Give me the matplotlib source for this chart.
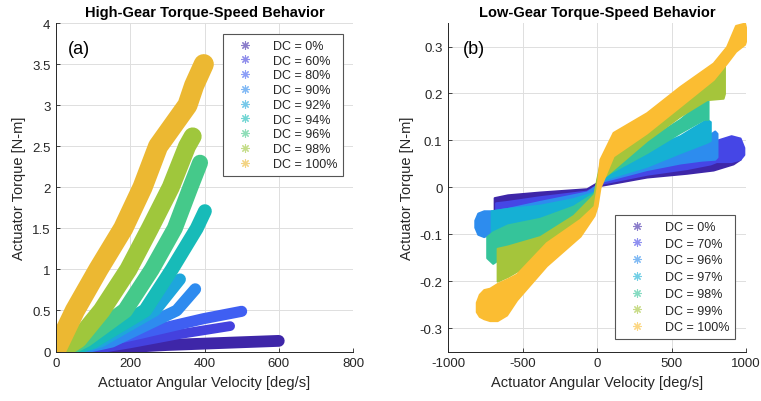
"""
Torque-speed behaviour of the actuator in high and low gear,
one band per PWM duty cycle.
"""

import matplotlib.pyplot as plt
from matplotlib.lines import Line2D
from matplotlib.ticker import FuncFormatter


plt.rcParams["font.family"] = ["Liberation Sans", "DejaVu Sans"]

# ------------------------------------------------------------
# Data
# ------------------------------------------------------------

# High gear: centre line of each measured band (deg/s, N-m)
HIGH_DC = [0, 60, 80, 90, 92, 94, 96, 98, 100]
HIGH_VEL = [
    [90, 300, 600],
    [80, 200, 330, 469],
    [60, 136, 226, 397, 500],
    [30, 150, 325, 375],
    [25, 120, 267, 334],
    [20, 100, 240, 312, 379, 401],
    [15, 80, 186, 258, 320, 362, 388],
    [8, 60, 123, 195, 253, 309, 353, 368],
    [0, 51, 114, 181, 233, 275, 354, 372, 398],
]
HIGH_TORQUE = [
    [0.03, 0.08, 0.13],
    [0.01, 0.10, 0.21, 0.31],
    [0.02, 0.13, 0.22, 0.40, 0.49],
    [0.0, 0.12, 0.50, 0.76],
    [0.0, 0.12, 0.50, 0.88],
    [0.0, 0.12, 0.50, 1.00, 1.50, 1.71],
    [0.0, 0.15, 0.50, 1.00, 1.50, 2.00, 2.30],
    [0.0, 0.15, 0.50, 1.00, 1.50, 2.00, 2.50, 2.62],
    [0.02, 0.50, 1.00, 1.50, 2.00, 2.50, 3.00, 3.24, 3.50],
]

# Low gear: lower / upper envelope of each band (deg/s, N-m)
LOW_DC = [0, 70, 96, 97, 98, 99, 100]
LOW_VEL = [
    [-690, -600, -383, -69, 0, 20, 333, 600, 780, 913, 960],
    [-680, -600, -383, -69, 0, 20, 333, 600, 760, 800, 900, 960, 985],
    [-820, -800, -760, -700, -600, -383, -69, 0, 20, 333, 557, 700, 790, 805],
    [-710, -600, -383, -159, -20, 0, 20, 333, 557, 736, 760],
    [-740, -700, -600, -383, -159, -20, 0, 20, 333, 557, 715, 745],
    [-670, -600, -383, -159, -20, 0, 20, 333, 557, 736, 846, 855],
    [-810, -790, -760, -720, -670, -607, -540, -340, -114, -20, 0, 20, 108,
     333, 557, 780, 870, 930, 990, 1005],
]
LOW_HI = [
    [-0.022, -0.016, -0.010, -0.003, 0.01, 0.03, 0.05, 0.06, 0.07, 0.08,
     0.08],
    [-0.033, -0.03, -0.02, -0.008, 0.005, 0.03, 0.055, 0.07, 0.085, 0.10,
     0.11, 0.105, 0.085],
    [-0.07, -0.055, -0.05, -0.05, -0.045, -0.03, -0.01, 0.005, 0.035, 0.065,
     0.085, 0.10, 0.12, 0.115],
    [-0.05, -0.045, -0.038, -0.024, -0.01, 0.01, 0.04, 0.08, 0.11, 0.145,
     0.14],
    [-0.105, -0.095, -0.08, -0.066, -0.04, -0.012, 0.015, 0.045, 0.10, 0.145,
     0.187, 0.185],
    [-0.13, -0.125, -0.105, -0.06, -0.015, 0.02, 0.05, 0.12, 0.175, 0.24,
     0.285, 0.27],
    [-0.245, -0.228, -0.218, -0.215, -0.205, -0.196, -0.185, -0.118, -0.068,
     -0.04, 0.0, 0.06, 0.117, 0.159, 0.215, 0.265, 0.30, 0.345, 0.35, 0.33],
]
LOW_LO = [
    [-0.055, -0.05, -0.04, -0.025, -0.015, 0.004, 0.022, 0.03, 0.037, 0.05,
     0.06],
    [-0.06, -0.052, -0.045, -0.03, -0.02, 0.008, 0.028, 0.04, 0.05, 0.055,
     0.055, 0.06, 0.07],
    [-0.085, -0.1, -0.105, -0.095, -0.07, -0.055, -0.03, -0.02, 0.012, 0.038,
     0.052, 0.058, 0.06, 0.065],
    [-0.095, -0.09, -0.075, -0.05, -0.03, -0.015, 0.015, 0.045, 0.074, 0.096,
     0.10],
    [-0.15, -0.162, -0.14, -0.11, -0.07, -0.035, -0.02, 0.02, 0.074, 0.117,
     0.145, 0.145],
    [-0.2, -0.19, -0.15, -0.095, -0.04, -0.025, 0.015, 0.10, 0.152, 0.187,
     0.19, 0.2],
    [-0.265, -0.275, -0.28, -0.284, -0.284, -0.272, -0.24, -0.167, -0.104,
     -0.06, -0.04, 0.0, 0.067, 0.116, 0.173, 0.23, 0.265, 0.29, 0.305, 0.32],
]

# ------------------------------------------------------------
# Styles
# ------------------------------------------------------------

HIGH_COLORS = ["#3e26a8", "#4441de", "#3f5ff2", "#2e8bef", "#1ea6dc",
               "#17bbb8", "#45c98a", "#9fc73c", "#ecb832"]
HIGH_WIDTHS = [8.5, 7.0, 8.0, 8.5, 8.5, 10.0, 11.5, 13.0, 14.5]

LOW_COLORS = ["#3e26a8", "#4546e6", "#2d8cee", "#15b0d4", "#35c49a",
              "#a5c53b", "#fbbd32"]

AXIS_GRAY = "#262626"
GRID_GRAY = "#dedede"


def fmt_g(value, _pos):
    return f"{value:g}"


def style_axes(ax):
    """MATLAB-like look: grid on, box off, inward ticks."""
    ax.grid(True, color=GRID_GRAY, linewidth=0.7)
    ax.set_axisbelow(True)
    for side in ["top", "right"]:
        ax.spines[side].set_visible(False)
    for side in ["left", "bottom"]:
        ax.spines[side].set_color(AXIS_GRAY)
        ax.spines[side].set_linewidth(0.7)
    ax.tick_params(direction="in", length=3, width=0.6, colors=AXIS_GRAY,
                   labelsize=9.5, pad=4)
    ax.xaxis.set_major_formatter(FuncFormatter(fmt_g))
    ax.yaxis.set_major_formatter(FuncFormatter(fmt_g))


def add_legend(ax, labels, colors, loc, anchor, spacing):
    handles = [
        Line2D([], [], linestyle="none", marker=(8, 2, 0), markersize=6,
               markeredgewidth=0.8, color=c, alpha=0.6)
        for c in colors
    ]
    leg = ax.legend(handles, labels, loc=loc, bbox_to_anchor=anchor,
                    borderaxespad=0, fontsize=9, frameon=True, fancybox=False,
                    framealpha=1, edgecolor="#555555", labelspacing=spacing,
                    handlelength=2.6, handletextpad=0.9, borderpad=0.45,
                    labelcolor=AXIS_GRAY)
    leg.get_frame().set_linewidth(0.8)


def plot_high_gear(ax):
    for vel, torque, color, width in zip(HIGH_VEL, HIGH_TORQUE, HIGH_COLORS,
                                         HIGH_WIDTHS):
        ax.plot(vel, torque, color=color, linewidth=width,
                solid_capstyle="round", solid_joinstyle="round")

    ax.set_xlim(0, 800)
    ax.set_ylim(0, 4)
    ax.set_xticks([0, 200, 400, 600, 800])
    ax.set_yticks([0, 0.5, 1, 1.5, 2, 2.5, 3, 3.5, 4])
    style_axes(ax)

    ax.set_title("High-Gear Torque-Speed Behavior", fontsize=10.5,
                 fontweight="bold", pad=5)
    ax.set_xlabel("Actuator Angular Velocity [deg/s]", fontsize=10.5,
                  color=AXIS_GRAY)
    ax.set_ylabel("Actuator Torque [N-m]", fontsize=10.5, color=AXIS_GRAY)
    ax.text(0.04, 0.95, "(a)", transform=ax.transAxes, fontsize=13,
            va="top", ha="left")

    add_legend(ax, [f"DC = {dc}%" for dc in HIGH_DC], HIGH_COLORS,
               "upper right", (0.966, 0.966), 0.22)


def plot_low_gear(ax):
    for vel, lo, hi, color in zip(LOW_VEL, LOW_LO, LOW_HI, LOW_COLORS):
        ax.fill_between(vel, lo, hi, facecolor=color, edgecolor=color,
                        linewidth=1.5, joinstyle="round")

    ax.set_xlim(-1000, 1000)
    ax.set_ylim(-0.35, 0.35)
    ax.set_xticks([-1000, -500, 0, 500, 1000])
    ax.set_yticks([-0.3, -0.2, -0.1, 0, 0.1, 0.2, 0.3])
    style_axes(ax)

    ax.set_title("Low-Gear Torque-Speed Behavior", fontsize=10.5,
                 fontweight="bold", pad=5)
    ax.set_xlabel("Actuator Angular Velocity [deg/s]", fontsize=10.5,
                  color=AXIS_GRAY)
    ax.set_ylabel("Actuator Torque [N-m]", fontsize=10.5, color=AXIS_GRAY)
    ax.text(0.05, 0.95, "(b)", transform=ax.transAxes, fontsize=13,
            va="top", ha="left")

    add_legend(ax, [f"DC = {dc}%" for dc in LOW_DC], LOW_COLORS,
               "lower right", (0.963, 0.038), 0.38)


def main():
    fig = plt.figure(figsize=(7.61, 4.02), dpi=100)
    ax_high = fig.add_axes([0.0736, 0.123, 0.3903, 0.817])
    ax_low = fig.add_axes([0.5887, 0.123, 0.3916, 0.817])

    plot_high_gear(ax_high)
    plot_low_gear(ax_low)

    fig.savefig("out.png", dpi=100)


if __name__ == "__main__":
    main()
